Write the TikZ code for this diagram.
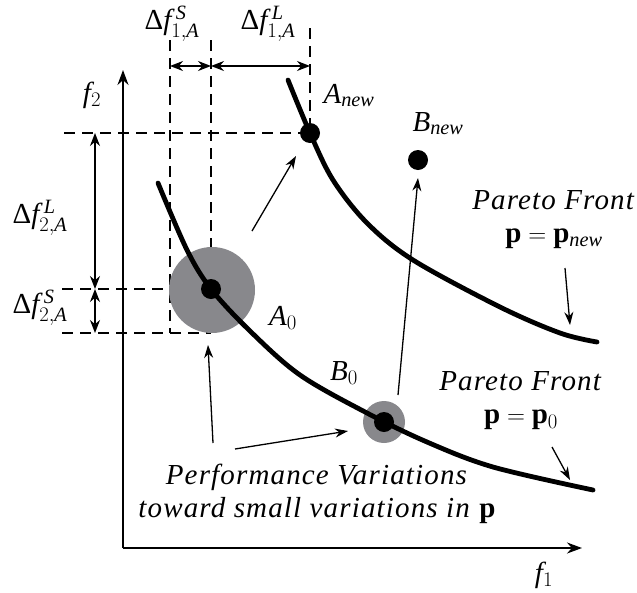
\documentclass[tikz,border=0pt]{standalone}
\usepackage{amsmath}
\usepackage{fontspec}
\setmainfont{Liberation Serif}
\usepackage{tikz}
\usetikzlibrary{arrows.meta}
\definecolor{spread}{RGB}{136,136,140}
\newcommand\dlt[3]{Δ$\mathit{f}^{\mkern4mu\mathit{#1}}_{#2,\mathit{#3}}$}
\newcommand\pvec{\mathbf{p}}

\begin{document}
\begin{tikzpicture}[x=1pt,y=-1pt,
  lbl/.style={font=\fontsize{29}{33}\selectfont,inner sep=0pt,align=center},
  note/.style={lbl,font=\fontsize{29}{33}\selectfont\addfontfeature{LetterSpace=4}},
  axis/.style={-{Stealth[length=15pt,width=11pt]},line width=1.8pt},
  arr/.style={-{Stealth[length=13pt,width=9pt]},line width=1.3pt},
  dim/.style={{Stealth[length=13pt,width=10pt]}-{Stealth[length=13pt,width=10pt]},line width=1.3pt},
  guide/.style={dash pattern=on 11pt off 7pt,line width=2.6pt},
  front/.style={line width=4.8pt,line cap=round},
  dot/.style={circle,fill=black,inner sep=0pt,minimum size=20pt},
  blur/.style={circle,fill=spread,inner sep=0pt}]
\useasboundingbox (0,0) rectangle (637,592);
% axes
\coordinate (O)  at (123,548);
\coordinate (yt) at (123,70);
\coordinate (xt) at (582,548);
\draw[axis] (O) -- (yt);
\draw[axis] (O) -- (xt);
\node[lbl,anchor=base] (f2) at (92,102) {$\mathit{f}_2$};
\node[lbl,anchor=base] (f1) at (544,582) {$\mathit{f}_1$};
% guide lines
\coordinate (v1t) at (170,40);  \coordinate (v1b) at (170,333);
\coordinate (v2t) at (211,40);  \coordinate (v2b) at (211,333);
\coordinate (v3t) at (310,28);  \coordinate (v3b) at (310,133);
\coordinate (h1l) at (64,133);  \coordinate (h2l) at (62,289);
\coordinate (h3l) at (62,333);
\draw[guide] (v1t) -- (v1b);
\draw[guide] (v2t) -- (v2b);
\draw[guide] (v3t) -- (v3b);
\draw[guide] (h1l) -- (v3b);
\draw[guide] (h2l) -- (211,289);
\draw[guide] (h3l) -- (v2b);
% deltas
\coordinate (d1) at (170,66); \coordinate (d2) at (211,66); \coordinate (d3) at (310,66);
\coordinate (e1) at (95,133); \coordinate (e2) at (95,289); \coordinate (e3) at (95,333);
\draw[dim] (d1) -- (d2);
\draw[dim] (d2) -- (d3);
\draw[dim] (e1) -- (e2);
\draw[dim] (e2) -- (e3);
\node[lbl,anchor=base] (df1s) at (172,29) {\dlt{S}{1}{A}};
\node[lbl,anchor=base] (df1l) at (268,29) {\dlt{L}{1}{A}};
\node[lbl,anchor=base] (df2l) at (40,223) {\dlt{L}{2}{A}};
\node[lbl,anchor=base] (df2s) at (40,313) {\dlt{S}{2}{A}};
% variation spreads
\node[blur,minimum size=86pt] (sA) at (212,290) {};
\node[blur,minimum size=42pt] (sB) at (384,422) {};
% pareto fronts
\draw[front] plot[smooth,tension=0.55] coordinates {(158,183) (187,250) (211,289) (250,331) (300,375) (367,413) (427,442) (493,467) (593,490)};
\draw[front] plot[smooth,tension=0.55] coordinates {(288,80) (310,133) (333,180) (367,223) (413,260) (500,307) (560,333) (597,342)};
% points
\node[dot] (A0)   at (211,289) {};
\node[dot] (B0)   at (384,422) {};
\node[dot] (Anew) at (310,133) {};
\node[dot] (Bnew) at (418,160) {};
\node[lbl,anchor=base] (lA0)   at (283,325) {$\mathit{A}_0$};
\node[lbl,anchor=base] (lB0)   at (344,380) {$\mathit{B}_0$};
\node[lbl,anchor=base] (lAnew) at (349,103) {$\mathit{A}_{\mathit{new}}$};
\node[lbl,anchor=base] (lBnew) at (438,131) {$\mathit{B}_{\mathit{new}}$};
% labels
\node[note] (pfnew) at (554,220) {\textit{Pareto Front}\\$\pvec=\pvec_{\mathit{new}}$};
\node[note] (pf0)   at (521,401) {\textit{Pareto Front}\\$\pvec=\pvec_{0}$};
\node[note] (perf)  at (317,494) {\textit{Performance Variations}\\\textit{toward small variations in} $\pvec$};
% arrows
\coordinate (a1s) at (252,231); \coordinate (a1e) at (296,156);
\coordinate (a2s) at (213,443); \coordinate (a2e) at (208,345);
\coordinate (a3s) at (235,449); \coordinate (a3e) at (348,431);
\coordinate (a4s) at (398,395); \coordinate (a4e) at (418,178);
\coordinate (a5s) at (565,268); \coordinate (a5e) at (570,325);
\coordinate (a6s) at (552,447); \coordinate (a6e) at (570,480);
\draw[arr] (a1s) -- (a1e);
\draw[arr] (a2s) -- (a2e);
\draw[arr] (a3s) -- (a3e);
\draw[arr] (a4s) -- (a4e);
\draw[arr] (a5s) -- (a5e);
\draw[arr] (a6s) -- (a6e);
\end{tikzpicture}
\end{document}
